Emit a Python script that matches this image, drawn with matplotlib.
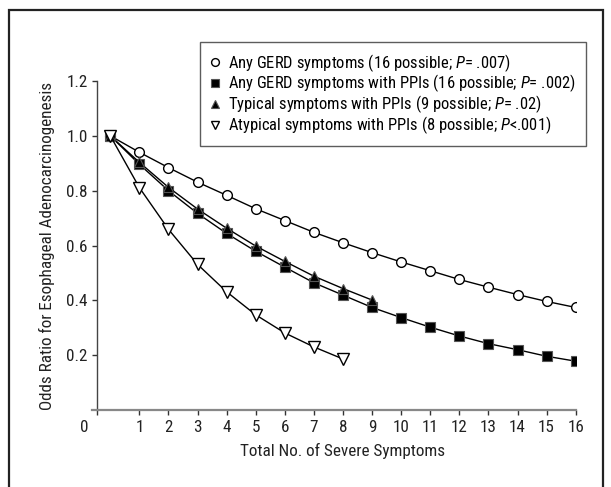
import matplotlib
matplotlib.use("Agg")
import matplotlib.pyplot as plt
import matplotlib.transforms as mtransforms
from matplotlib import font_manager
from matplotlib.patches import Rectangle

# pick a narrow sans if one is around, else Liberation Sans
names = set(f.name for f in font_manager.fontManager.ttflist)
font = 'Liberation Sans'
for cand in ['Liberation Sans Narrow', 'Roboto Condensed', 'Open Sans Condensed']:
    if cand in names:
        font = cand
        break
narrow = 'Narrow' in font or 'Condensed' in font
fs = 12.3 if narrow else 9.6
leg_fs = 11.9 if narrow else 9.4

plt.rcParams['font.family'] = [font, 'DejaVu Sans']
plt.rcParams['mathtext.fontset'] = 'custom'
plt.rcParams['mathtext.it'] = font + ':italic'
plt.rcParams['mathtext.rm'] = font

# data
x_any = list(range(0, 17))
any_gerd = [1.0, 0.940, 0.884, 0.831, 0.783, 0.734, 0.691, 0.648, 0.610,
            0.574, 0.540, 0.508, 0.476, 0.448, 0.421, 0.396, 0.374]
any_ppi = [1.0, 0.896, 0.800, 0.717, 0.644, 0.579, 0.521, 0.464, 0.419,
           0.374, 0.337, 0.302, 0.270, 0.242, 0.220, 0.196, 0.178]
x_typ = list(range(0, 10))
typical_ppi = [1.0, 0.903, 0.812, 0.733, 0.663, 0.598, 0.542, 0.488, 0.443, 0.401]
x_atyp = list(range(0, 9))
atypical_ppi = [1.0, 0.811, 0.659, 0.531, 0.431, 0.347, 0.281, 0.230, 0.186]

labels = [
    r'Any GERD symptoms (16 possible; $P$= .007)',
    r'Any GERD symptoms with PPIs (16 possible; $P$= .002)',
    r'Typical symptoms with PPIs (9 possible; $P$= .02)',
    r'Atypical symptoms with PPIs (8 possible; $P$<.001)',
]
xticks = list(range(1, 17))
yticks = [0.2, 0.4, 0.6, 0.8, 1.0, 1.2]

fig = plt.figure(figsize=(6.11, 4.87), dpi=100)
W, H = 611, 487
left, right, bottom, top = 91.7, 575.7, 410, 81
ax = fig.add_axes([left / W, 1 - bottom / H, (right - left) / W, (bottom - top) / H])

# outer frame
fig.patches.append(Rectangle((9 / W, -0.1), (603 - 9) / W, 1.1 - 10 / H,
                             transform=fig.transFigure, fill=False,
                             edgecolor='#222222', linewidth=1.6, zorder=0))

lw = 1.0
ax.plot(x_any, any_gerd, '-o', color='black', lw=lw, markersize=7,
        markerfacecolor='white', markeredgecolor='black', markeredgewidth=1,
        label=labels[0], zorder=3)
ax.plot(x_any, any_ppi, '-s', color='black', lw=lw, markersize=6.5,
        markerfacecolor='black', markeredgecolor='#555555', markeredgewidth=0.8,
        label=labels[1], zorder=3)
ax.plot(x_typ, typical_ppi, '-^', color='black', lw=lw, markersize=7.5,
        markerfacecolor='black', markeredgecolor='#555555', markeredgewidth=0.8,
        label=labels[2], zorder=4)
ax.plot(x_atyp, atypical_ppi, '-v', color='black', lw=lw, markersize=8,
        markerfacecolor='white', markeredgecolor='black', markeredgewidth=1,
        label=labels[3], zorder=5)

ax.set_xlim(-0.64, 16)
ax.set_ylim(0, 1.2)
ax.spines['top'].set_visible(False)
ax.spines['right'].set_visible(False)
ax.spines['left'].set_position(('data', -0.47))
ax.spines['left'].set_color('#444444')
ax.spines['left'].set_linewidth(1.0)
ax.spines['bottom'].set_color('#888888')
ax.spines['bottom'].set_linewidth(1.6)

ax.set_xticks([-0.47] + xticks)
ax.set_xticklabels([''] + [str(t) for t in xticks])
ax.set_yticks(yticks)
ax.set_yticklabels(['%.1f' % t for t in yticks])
ax.tick_params(axis='both', direction='out', length=3.5, width=1,
               color='#333333', labelsize=fs, labelcolor='#222222')
ax.tick_params(axis='x', pad=3.5)
ax.tick_params(axis='y', pad=3.0)

trans = mtransforms.blended_transform_factory(ax.transData, ax.transAxes)
ax.text(-0.91, -0.052, '0', transform=trans, ha='center', va='center',
        fontsize=fs, color='#222222')

ax.set_xlabel('Total No. of Severe Symptoms', fontsize=fs, color='#222222')
ax.set_ylabel('Odds Ratio for Esophageal Adenocarcinogenesis', fontsize=fs,
              color='#222222')
ax.xaxis.set_label_coords((343 - left) / (right - left), -(443 - bottom) / (bottom - top))
ax.yaxis.set_label_coords(-(left - 55) / (right - left), 0.5)

leg = ax.legend(loc='upper left', bbox_to_anchor=((200 - left) / (right - left),
                                                 (bottom - 42) / (bottom - top)),
                borderaxespad=0, frameon=True, fancybox=False, fontsize=leg_fs,
                handlelength=0.65, handletextpad=0.45, labelspacing=-0.05,
                borderpad=0.6, markerscale=0.8)
leg.get_frame().set_edgecolor('#333333')
leg.get_frame().set_linewidth(1.0)
for line in leg.get_lines():
    line.set_linestyle('none')

fig.savefig('out.png', dpi=100)
